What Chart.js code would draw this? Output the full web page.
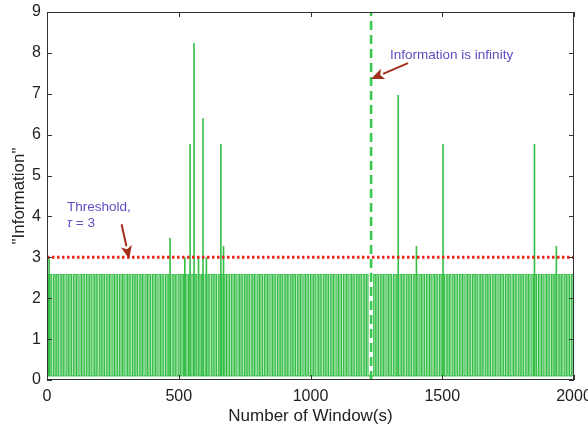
<!DOCTYPE html>
<html>
<head>
<meta charset="utf-8">
<script src="https://cdn.jsdelivr.net/npm/chart.js@4.4.1/dist/chart.umd.min.js"></script>
<style>
  html, body { margin: 0; padding: 0; background: #fff; }
  #wrap { width: 588px; height: 429px; position: relative; }
</style>
</head>
<body>
<div id="wrap"><canvas id="c" width="588" height="429"></canvas></div>
<script>
// ---- data ----
const xTicks = [0, 500, 1000, 1500, 2000];
const yTicks = [0, 1, 2, 3, 4, 5, 6, 7, 8, 9];
// start window of each plateau of the base oscillation
const teethStart = [
  0,12,25,37,50,62,75,87,100,112,125,137,150,162,175,187,200,212,225,237,
  250,262,275,287,300,312,325,337,350,362,375,387,400,412,425,437,450,462,475,487,
  500,512,525,537,550,562,575,587,600,612,625,637,650,662,675,687,700,712,725,737,
  750,762,775,787,800,812,825,837,850,862,875,887,900,912,925,937,950,962,975,987,
  1000,1012,1025,1037,1050,1062,1075,1087,1100,1112,1125,1137,1150,1162,1175,1187,1200,1212,
  1240,1252,1265,1277,1290,1302,1315,1327,1340,1352,1365,1377,1390,1402,1415,1427,1440,1452,1465,1477,
  1490,1502,1515,1527,1540,1552,1565,1577,1590,1602,1615,1627,1640,1652,1665,1677,1690,1702,1715,1727,
  1740,1752,1765,1777,1790,1802,1815,1827,1840,1852,1865,1877,1890,1902,1915,1927,1940,1952,1965,1977,1990
];
const plateauLevel = 2.58;
const baseLevel = 0.1;
const plateauWidth = 6;   // windows
// isolated spikes
const spikeX = [8, 467, 523, 543, 558, 575, 592, 605, 660, 670, 1333, 1402, 1503, 1850, 1933];
const spikeY = [3.0, 3.47, 3.0, 5.77, 8.24, 3.0, 6.4, 3.0, 5.77, 3.28, 6.97, 3.28, 5.77, 5.77, 3.28];
const infinityWindow = 1230;
const threshold = 3;

// ---- build tables ----
const signal = [];
teethStart.forEach(s => {
  const e = Math.min(s + plateauWidth, 2000);
  signal.push({x: s, y: baseLevel}, {x: s, y: plateauLevel}, {x: e, y: plateauLevel}, {x: e, y: baseLevel});
});
const spikes = [];
spikeX.forEach((x, i) => {
  spikes.push({x: x, y: baseLevel}, {x: x, y: spikeY[i]}, {x: x, y: null});
});

const GREEN = 'rgb(52,190,70)';
const FONT = "'Liberation Sans', Arial, Helvetica, sans-serif";

const decor = {
  id: 'decor',
  afterDatasetsDraw(chart) {
    const {ctx, chartArea: a, scales: {x, y}} = chart;
    ctx.save();
    ctx.strokeStyle = '#333';
    ctx.lineWidth = 1;
    ctx.strokeRect(a.left + 0.5, a.top + 0.5, a.right - a.left - 1, a.bottom - a.top - 1);
    const L = 5;
    ctx.beginPath();
    xTicks.forEach(v => {
      const px = Math.round(x.getPixelForValue(v)) + 0.5;
      ctx.moveTo(px, a.bottom); ctx.lineTo(px, a.bottom - L);
      ctx.moveTo(px, a.top); ctx.lineTo(px, a.top + L);
    });
    yTicks.forEach(v => {
      const py = Math.round(y.getPixelForValue(v)) + 0.5;
      ctx.moveTo(a.left, py); ctx.lineTo(a.left + L, py);
      ctx.moveTo(a.right, py); ctx.lineTo(a.right - L, py);
    });
    ctx.stroke();

    // annotations
    const arrow = (x0, y0, x1, y1) => {
      const p0 = [x.getPixelForValue(x0), y.getPixelForValue(y0)];
      const p1 = [x.getPixelForValue(x1), y.getPixelForValue(y1)];
      const ang = Math.atan2(p1[1] - p0[1], p1[0] - p0[0]);
      const hl = 13, hw = 5.5;
      const bx = p1[0] - hl * Math.cos(ang), by = p1[1] - hl * Math.sin(ang);
      ctx.strokeStyle = '#a3301b';
      ctx.fillStyle = '#a3301b';
      ctx.lineWidth = 2;
      ctx.beginPath(); ctx.moveTo(p0[0], p0[1]); ctx.lineTo(bx, by); ctx.stroke();
      ctx.beginPath();
      ctx.moveTo(p1[0], p1[1]);
      ctx.lineTo(bx + hw * Math.sin(ang), by - hw * Math.cos(ang));
      ctx.lineTo(bx + 3 * Math.cos(ang), by + 3 * Math.sin(ang));
      ctx.lineTo(bx - hw * Math.sin(ang), by + hw * Math.cos(ang));
      ctx.closePath(); ctx.fill();
    };
    arrow(1370, 7.75, 1230, 7.36);
    arrow(283, 3.81, 312, 2.96);

    ctx.fillStyle = '#5b4fc2';
    ctx.textBaseline = 'middle';
    ctx.textAlign = 'left';
    ctx.font = '13.5px ' + FONT;
    ctx.fillText('Information is infinity', x.getPixelForValue(1302), y.getPixelForValue(7.95));
    ctx.fillText('Threshold,', x.getPixelForValue(76), y.getPixelForValue(4.23));
    const tx = x.getPixelForValue(76), ty = y.getPixelForValue(3.84);
    ctx.font = 'italic 13.5px ' + FONT;
    ctx.fillText('τ', tx, ty);
    const tw = ctx.measureText('τ').width;
    ctx.font = '13.5px ' + FONT;
    ctx.fillText(' = 3', tx + tw, ty);
    ctx.restore();
  }
};

new Chart(document.getElementById('c'), {
  type: 'line',
  data: {
    datasets: [
      { label: 'threshold', data: [{x: 0, y: threshold}, {x: 2000, y: threshold}],
        borderColor: 'rgb(232,38,28)', borderWidth: 3, borderDash: [2.5, 2.5], pointRadius: 0 },
      { label: 'infinity', data: [{x: infinityWindow, y: 0}, {x: infinityWindow, y: 9}],
        borderColor: 'rgb(60,200,80)', borderWidth: 2.6, borderDash: [9, 5], pointRadius: 0 },
      { label: 'spikes', data: spikes, borderColor: GREEN, borderWidth: 1.6, pointRadius: 0, spanGaps: false },
      { label: 'signal', data: signal, borderColor: GREEN, borderWidth: 1.2, pointRadius: 0 }
    ]
  },
  options: {
    responsive: false,
    animation: false,
    events: [],
    layout: { padding: { top: 12, right: 14, left: 0, bottom: 0 } },
    plugins: { legend: { display: false }, tooltip: { enabled: false } },
    elements: { line: { tension: 0 } },
    scales: {
      x: {
        type: 'linear', min: 0, max: 2000,
        grid: { display: false, drawTicks: false }, border: { display: false },
        afterBuildTicks: s => { s.ticks = xTicks.map(v => ({value: v})); },
        ticks: { color: '#222', font: { size: 16, family: FONT }, padding: 7, maxRotation: 0,
                 callback: v => String(v) },
        title: { display: true, text: 'Number of Window(s)', color: '#222', font: { size: 17, family: FONT }, padding: { top: 0, bottom: 2 } },
        afterFit: s => { s.height = 49; s.paddingLeft = 0; s.paddingRight = 0; }
      },
      y: {
        type: 'linear', min: 0, max: 9,
        grid: { display: false, drawTicks: false }, border: { display: false },
        afterBuildTicks: s => { s.ticks = yTicks.map(v => ({value: v})); },
        ticks: { color: '#222', font: { size: 16, family: FONT }, padding: 6, callback: v => String(v) },
        title: { display: true, text: '"Information"', color: '#222', font: { size: 17, family: FONT }, padding: { top: 9, bottom: 0 } },
        afterFit: s => { s.width = 47; s.paddingTop = 0; s.paddingBottom = 0; }
      }
    }
  },
  plugins: [decor]
});
</script>
</body>
</html>
